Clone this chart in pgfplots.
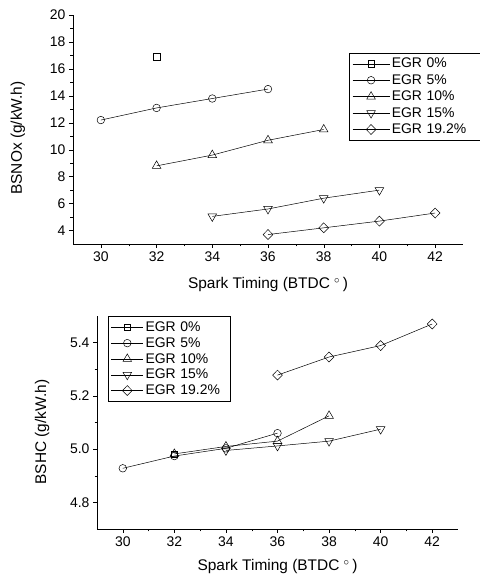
\documentclass[border=0pt]{standalone}
\usepackage{fontspec}
\setmainfont{Liberation Sans}
\usepackage{pgfplots}
\pgfplotsset{compat=1.18}
\pgfplotsset{
  common/.style={
    scale only axis,
    axis x line=bottom, axis y line=left,
    axis line style={-, thin},
    xmin=29, xmax=43, xtick={30,32,...,42},
    minor x tick num=1, minor y tick num=1,
    tick align=outside, major tick length=4bp, minor tick length=2.5bp,
    tick style={black, thin},
    /pgf/number format/assume math mode=true,
    tick label style={font=\fontsize{14}{15}\selectfont},
    label style={font=\fontsize{15.5}{17}\selectfont},
    xlabel={Spark Timing (BTDC $^{\circ}$\,)},
    every axis plot/.append style={black, line width=0.5pt, mark options={solid, fill=white, line width=0.5pt}},
    legend cell align=left,
    clip=false,
  },
  sq/.style={mark=square, mark size=3.2bp},
  ci/.style={mark=o, mark size=3.8bp},
  tu/.style={mark=triangle, mark size=5bp},
  td/.style={mark=triangle, mark size=5bp, mark options={rotate=180}},
  di/.style={mark=diamond, mark size=5bp, mark options={xscale=1.3}},
}
\begin{document}
\begin{tikzpicture}
\path[use as bounding box] (0,0) rectangle (480bp,581bp);
% ---------------- Top: BSNOx ----------------
\begin{axis}[common,
  at={(73bp,337bp)}, anchor=south west,
  width=390bp, height=229bp,
  ymin=3, ymax=20, ytick={4,6,...,20},
  ylabel={BSNOx (g/kW.h)},
  xlabel style={at={(axis description cs:0.5,0)}, anchor=center, yshift=-41bp},
  ylabel style={at={(axis description cs:-0.141,0.463)}, anchor=center},
  legend style={at={(0.708,0.834)}, anchor=north west, draw=black, thin,
    font=\fontsize{14}{16}\selectfont, row sep=1.2bp, inner xsep=3bp, inner ysep=3bp,
    text width=86bp},
  legend image code/.code={\draw[mark repeat=2,mark phase=2] plot coordinates {(0bp,0bp) (18.5bp,0bp) (37bp,0bp)};},
]
\addplot[sq] coordinates {(32,16.9)};
\addlegendentry{EGR 0\%}
\addplot[ci] coordinates {(30,12.2) (32,13.1) (34,13.8) (36,14.5)};
\addlegendentry{EGR 5\%}
\addplot[tu] coordinates {(32,8.8) (34,9.6) (36,10.7) (38,11.5)};
\addlegendentry{EGR 10\%}
\addplot[td] coordinates {(34,5.05) (36,5.6) (38,6.4) (40,7.0)};
\addlegendentry{EGR 15\%}
\addplot[di] coordinates {(36,3.7) (38,4.2) (40,4.7) (42,5.3)};
\addlegendentry{EGR 19.2\%}
\end{axis}
% ---------------- Bottom: BSHC ----------------
\begin{axis}[common,
  at={(97bp,52bp)}, anchor=south west,
  width=361bp, height=213bp,
  ymin=4.7, ymax=5.5, ytick={4.8,5.0,5.2,5.4},
  yticklabel style={/pgf/number format/.cd, fixed, fixed zerofill, precision=1},
  ylabel={BSHC (g/kW.h)},
  xlabel style={at={(axis description cs:0.5,0)}, anchor=center, yshift=-38bp},
  ylabel style={at={(axis description cs:-0.152,0.455)}, anchor=center},
  legend style={at={(0.03,1.0)}, anchor=north west, draw=black, thin,
    font=\fontsize{14}{15}\selectfont, row sep=0.6bp, inner xsep=3bp, inner ysep=3.5bp,
    text width=80bp},
  legend image code/.code={\draw[mark repeat=2,mark phase=2] plot coordinates {(0bp,0bp) (16bp,0bp) (32bp,0bp)};},
]
\addplot[sq] coordinates {(32,4.98)};
\addlegendentry{EGR 0\%}
\addplot[ci] coordinates {(30,4.928) (32,4.974) (34,5.003) (36,5.060)};
\addlegendentry{EGR 5\%}
\addplot[tu] coordinates {(32,4.982) (34,5.010) (36,5.030) (38,5.125)};
\addlegendentry{EGR 10\%}
\addplot[td] coordinates {(34,4.995) (36,5.012) (38,5.030) (40,5.075)};
\addlegendentry{EGR 15\%}
\addplot[di] coordinates {(36,5.278) (38,5.346) (40,5.389) (42,5.470)};
\addlegendentry{EGR 19.2\%}
\end{axis}
\end{tikzpicture}
\end{document}
